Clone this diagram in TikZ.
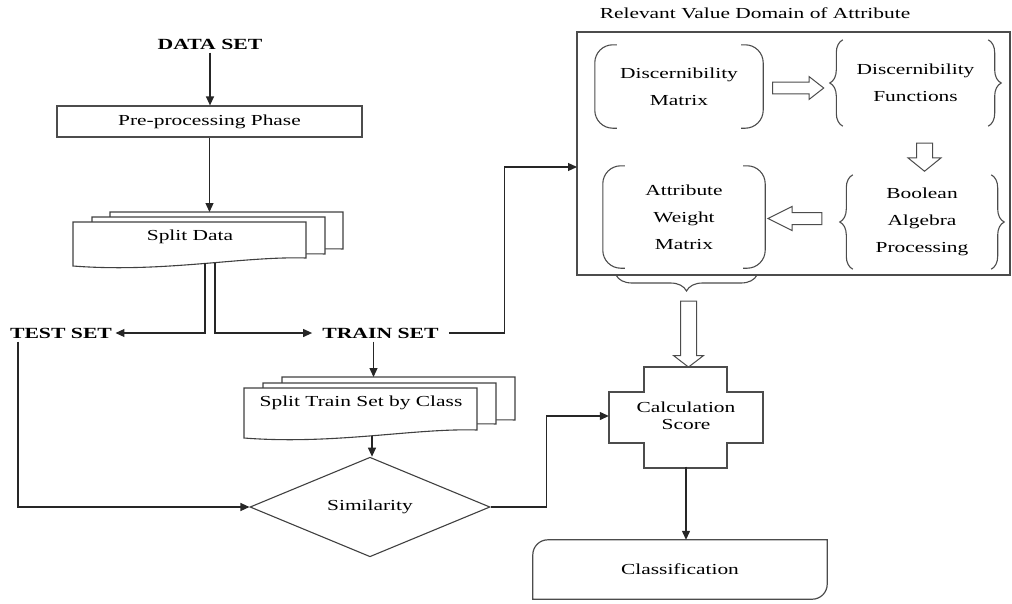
\documentclass[tikz,border=0pt]{standalone}
\usepackage{fontspec}
\setmainfont{Liberation Serif}[FakeStretch=1.4]
\usetikzlibrary{arrows.meta,calc,shapes.geometric,shapes.arrows,decorations.pathreplacing}
\newcommand\docpg[3]{%
  \draw[pg] (#1,#2) -- ($(#1,#2)+(233,0)$) -- ($(#1,#2)+(233,#3)$)
    .. controls ($(#1,#2)+(170,#3-2)$) and ($(#1,#2)+(90,#3+15)$) .. ($(#1,#2)+(0,#3+8)$) -- cycle;}
\newcommand\parens[1]{%
  \draw[paren] ($(#1.north west)+(22,0)$) -- (#1.north west) -- (#1.south west) -- ($(#1.south west)+(22,0)$);
  \draw[paren] ($(#1.north east)+(-22,0)$) -- (#1.north east) -- (#1.south east) -- ($(#1.south east)+(-22,0)$);}
\newcommand\braces[1]{%
  \draw[brc] (#1.south west) -- (#1.north west);
  \draw[brc] (#1.north east) -- (#1.south east);}
\begin{document}
\begin{tikzpicture}[x=1pt,y=-1pt,
  font=\fontsize{15.3}{17}\selectfont, text=black,
  ln/.style={draw=black!85, line width=1.2pt},
  arr/.style={ln, -{Triangle[length=9pt,width=8pt]}},
  box/.style={draw=black!70, line width=1.2pt},
  pg/.style={draw=black!75, line width=1.1pt, fill=white},
  lbl/.style={font=\fontsize{15.5}{17}\selectfont\bfseries},
  multi/.style={align=center, font=\fontsize{15.3}{27}\selectfont},
  hollow/.style={single arrow, draw=black!70, line width=1pt, fill=white, inner xsep=0pt},
  paren/.style={draw=black!70, line width=1.1pt, rounded corners=18pt},
  brc/.style={draw=black!70, line width=1.1pt, decorate, decoration={brace, amplitude=13pt}}]
\useasboundingbox (0,0) rectangle (1012,603);

% left column
\node[lbl] (ds) at (210,44) {DATA SET};
\node[box, minimum width=305, minimum height=31, inner sep=0pt] (pre) at (209.5,121.5) {Pre-processing Phase};
\draw[arr] (ds.south) -- (ds.south |- pre.north);

\docpg{110}{212}{37}
\docpg{92}{217}{37}
\docpg{73}{222}{36}
\node (split) at (190,237) {Split Data};
\coordinate (splittop) at (210,212);
\draw[arr] (pre.south) -- (pre.south |- splittop);

\node[lbl] (test) at (61,333) {TEST SET};
\node[lbl, inner xsep=10pt] (train) at (380.5,333) {TRAIN SET};
\coordinate (sdL) at (205,263);
\coordinate (sdR) at (215,263);
\draw[arr] (sdL) |- (test.east);
\draw[arr] (sdR) |- (train.west);

\docpg{282}{377}{43}
\docpg{263}{383}{41}
\docpg{244}{388}{42}
\node (stsc) at (361,403) {Split Train Set by Class};
\coordinate (stsctop) at (373.5,377);
\coordinate (stscb) at (372,436);
\draw[arr] ([xshift=-7pt]train.south) -- (stsctop);

\node[diamond, draw=black!75, line width=1.1pt, minimum width=240, minimum height=60, inner sep=0pt] (sim) at (370,507) {Similarity};
\draw[arr] (stscb) -- (stscb |- sim.north);
\draw[arr] ([xshift=-43pt]test.south) |- (sim.west);

% relevant value domain box
\node (rvdlbl) at (755,13) {Relevant Value Domain of Attribute};
\node[box, minimum width=433, minimum height=243, inner sep=0pt] (rvd) at (793.5,153.5) {};
\coordinate (rvdin) at (577,167);
\draw[arr] (train.east) -- ++(56,0) |- (rvdin);

\node[multi, minimum width=168, minimum height=83, inner sep=0pt] (dm) at (679,86.5) {Discernibility\\Matrix};
\parens{dm}
\node[multi, minimum width=145, minimum height=86, inner sep=0pt] (df) at (915.5,83) {Discernibility\\Functions};
\braces{df}
\node[multi, minimum width=138, minimum height=94, inner sep=0pt] (bap) at (922,222) {Boolean\\Algebra\\Processing};
\braces{bap}
\node[multi, minimum width=162, minimum height=102, inner sep=0pt] (awm) at (684,217) {Attribute\\Weight\\Matrix};
\parens{awm}

\node[hollow, inner ysep=5.3pt, single arrow head extend=5.6pt, single arrow tip angle=76, minimum height=51pt] (a1) at (794.5,88) {};
\node[hollow, inner ysep=7.5pt, single arrow head extend=8.5pt, single arrow tip angle=102, minimum height=28pt, rotate=-90] (a2) at (924.5,154) {};
\node[hollow, inner ysep=5.5pt, single arrow head extend=6pt, single arrow tip angle=53, minimum height=54pt, rotate=180] (a3) at (801,218.5) {};

\draw[brc, decoration={brace, amplitude=16pt}] (757,275) -- (616,275);
\node[hollow, inner ysep=7.5pt, single arrow head extend=7pt, single arrow tip angle=105, minimum height=66pt, rotate=-90] (a4) at (688.5,331) {};

% calculation score
\node[minimum width=154, minimum height=101, inner sep=0pt, align=center] (calc) at (686,416) {Calculation\\Score};
\draw[box] (644,367) -- (727,367) -- (727,392) -- (763,392) -- (763,443) -- (727,443) -- (727,468) -- (644,468) -- (644,443) -- (609,443) -- (609,392) -- (644,392) -- cycle;
\draw[arr] (sim.east) -- ++(56,0) |- (calc.west);

\node[minimum width=294, minimum height=59, inner sep=0pt] (class) at (680,569.5) {Classification};
\draw[box] (class.south west) -- ($(class.north west)+(0,15)$) arc[start angle=180, end angle=90, radius=15pt]
  -- (class.north east) -- ($(class.south east)+(0,-15)$) arc[start angle=0, end angle=-90, radius=15pt] -- cycle;
\draw[arr] (calc.south) -- (calc.south |- class.north);
\end{tikzpicture}
\end{document}
